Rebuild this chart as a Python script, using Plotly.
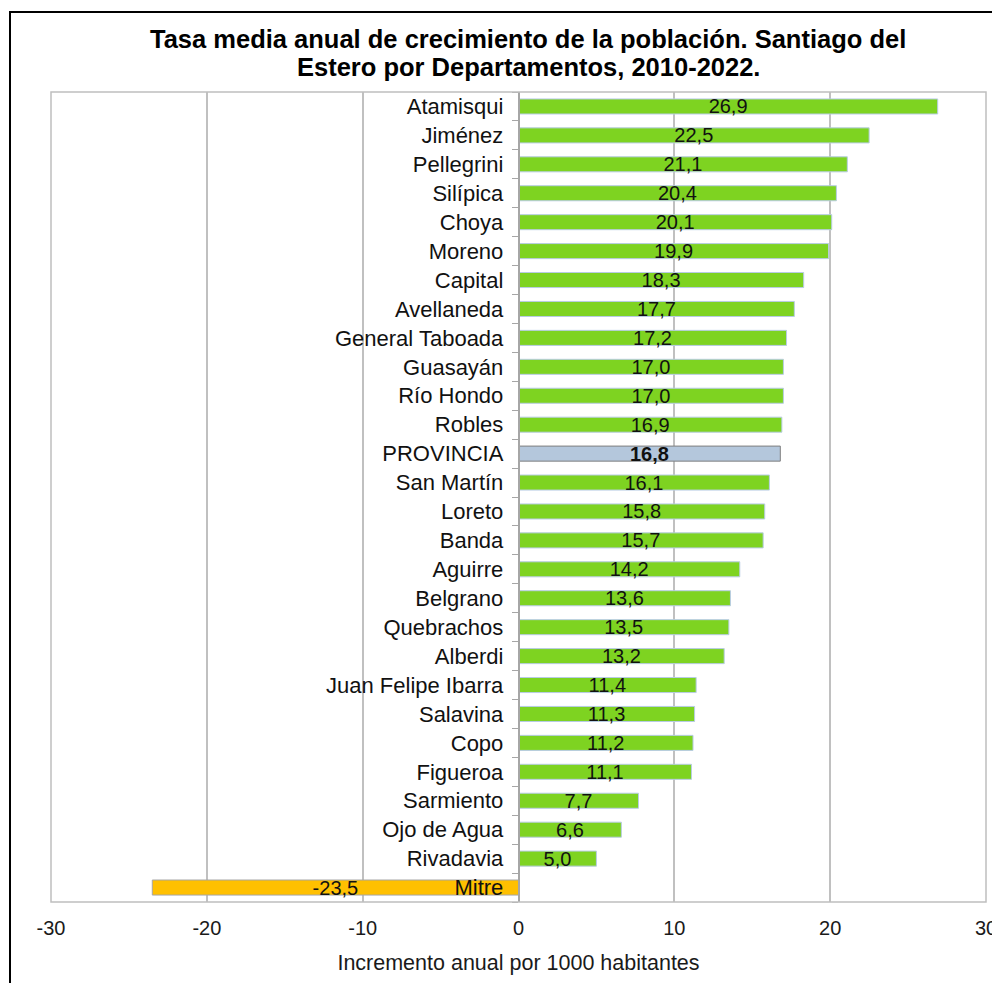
import plotly.graph_objects as go

departamentos = ["Atamisqui", "Jiménez", "Pellegrini", "Silípica", "Choya", "Moreno",
                 "Capital", "Avellaneda", "General Taboada", "Guasayán", "Río Hondo",
                 "Robles", "PROVINCIA", "San Martín", "Loreto", "Banda", "Aguirre",
                 "Belgrano", "Quebrachos", "Alberdi", "Juan Felipe Ibarra", "Salavina",
                 "Copo", "Figueroa", "Sarmiento", "Ojo de Agua", "Rivadavia", "Mitre"]
tasas = [26.9, 22.5, 21.1, 20.4, 20.1, 19.9, 18.3, 17.7, 17.2, 17.0, 17.0, 16.9, 16.8,
         16.1, 15.8, 15.7, 14.2, 13.6, 13.5, 13.2, 11.4, 11.3, 11.2, 11.1, 7.7, 6.6, 5.0, -23.5]
x_ticks = [-30, -20, -10, 0, 10, 20, 30]
x_tick_labels = ["-30", "-20", "-10", "0", "10", "20", "30"]
titulo = ["Tasa media anual de crecimiento de la población. Santiago del",
          "Estero por Departamentos, 2010-2022."]
eje_x = "Incremento anual por 1000 habitantes"

FONT = "Liberation Sans, Arial, sans-serif"

fill = []
edge = []
for d, v in zip(departamentos, tasas):
    if d == "PROVINCIA":
        fill.append("#B4C7DC"); edge.append("#7F7F7F")
    elif v < 0:
        fill.append("#FFC000"); edge.append("#A6A6A6")
    else:
        fill.append("#7ED321"); edge.append("#B8CCE4")

texts = [("<b>%s</b>" if d == "PROVINCIA" else "%s") % f"{v:.1f}".replace(".", ",")
         for d, v in zip(departamentos, tasas)]

fig = go.Figure(go.Bar(
    x=tasas, y=departamentos, orientation="h",
    marker=dict(color=fill, line=dict(color=edge, width=1)),
    width=0.52,
    text=texts, textposition="inside", insidetextanchor="middle",
    constraintext="none",
    textfont=dict(family=FONT, size=20, color="#111111"),
    textangle=0, cliponaxis=False,
))

W, H = 1000, 983
L, R, T, B = 43, 22, 84, 89
pw, ph = W - L - R, H - T - B

def px(x):
    return (x - L) / pw

def py(y):
    return (H - B - y) / ph

fig.update_layout(
    width=W, height=H,
    margin=dict(l=L, r=R, t=T, b=B),
    paper_bgcolor="white", plot_bgcolor="white",
    showlegend=False,
    xaxis=dict(range=[-30, 30], tickvals=x_ticks, ticktext=x_tick_labels,
               showgrid=True, gridcolor="#C0C0C0",
               gridwidth=1.5, zeroline=False, tickfont=dict(family=FONT, size=20, color="#1A1A1A"),
               ticks="", ticklabelstandoff=12,
               title=dict(text=eje_x,
                          font=dict(family=FONT, size=21.5, color="#1A1A1A"), standoff=16)),
    yaxis=dict(categoryorder="array", categoryarray=departamentos[::-1],
               autorange=False, range=[-0.5, len(departamentos) - 0.5],
               anchor="free", position=0.5, showline=True, linecolor="#A6A6A6", linewidth=1.5,
               ticks="outside", tickson="boundaries", ticklen=6, tickcolor="#A6A6A6",
               ticklabelstandoff=10,
               showgrid=False, tickfont=dict(family=FONT, size=22, color="#111111")),
)

for line, yc in zip(titulo, [31, 59]):
    fig.add_annotation(text=line, xref="paper", yref="paper", x=px(520), y=py(yc),
                       xanchor="center", yanchor="middle", showarrow=False,
                       font=dict(family=FONT, size=25.5, color="black", weight="bold"))

# plot-area border
fig.add_shape(type="rect", xref="paper", yref="paper", x0=0, x1=1, y0=0, y1=1,
              line=dict(color="#BFBFBF", width=1.5), layer="above")
# outer chart frame
fig.add_shape(type="rect", xref="paper", yref="paper",
              x0=px(2), x1=px(W + 20), y0=py(H + 20), y1=py(4),
              line=dict(color="black", width=2), layer="above")

fig.write_html("out.html")
